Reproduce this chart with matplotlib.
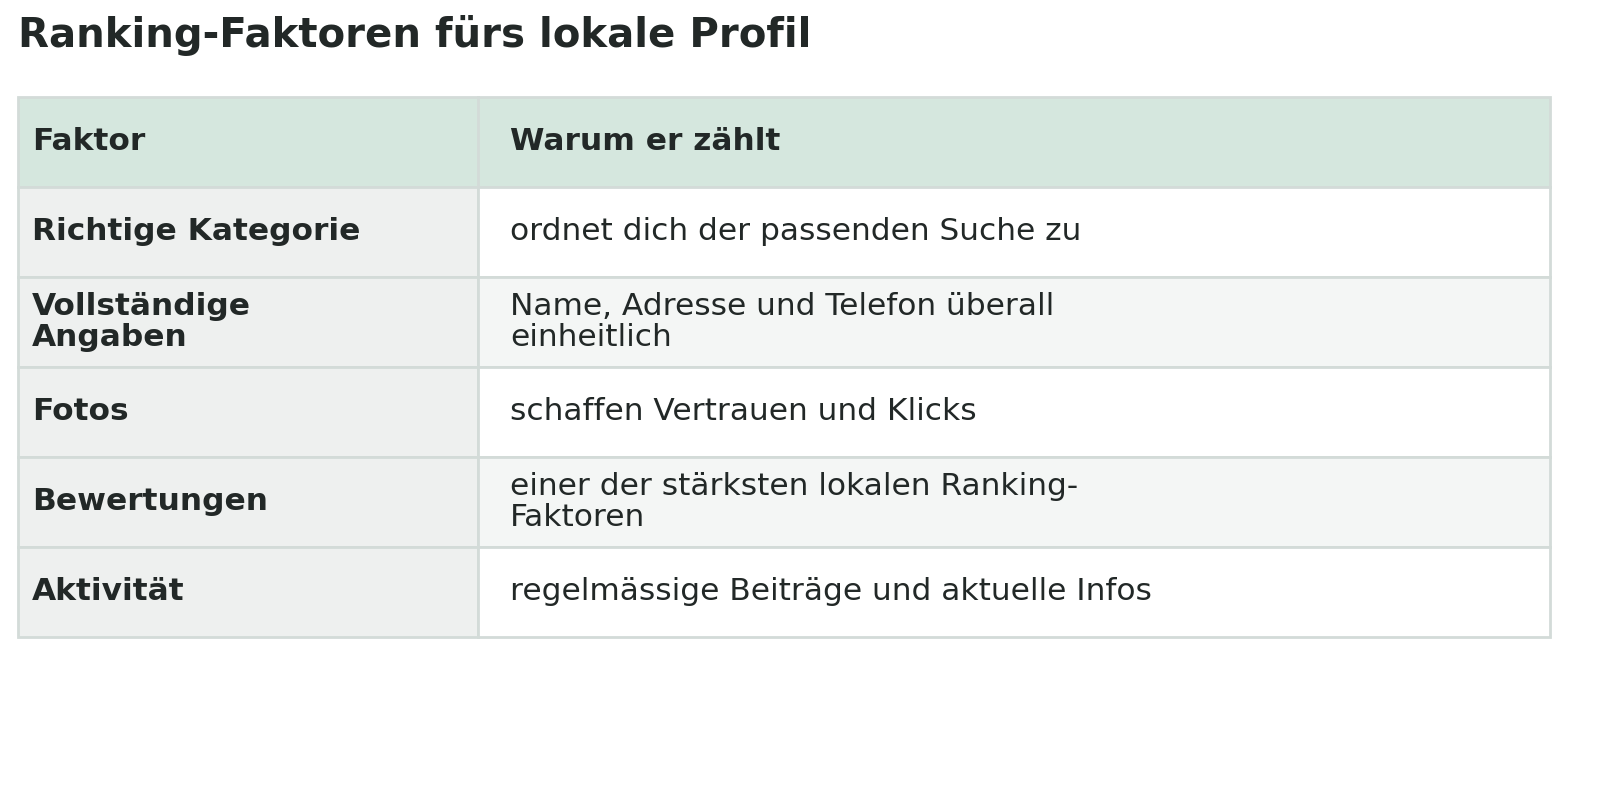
import matplotlib.pyplot as plt
from matplotlib.patches import Rectangle

title = "Ranking-Faktoren fürs lokale Profil"
headers = ["Faktor", "Warum er zählt"]
factors = ["Richtige Kategorie", "Vollständige\nAngaben", "Fotos", "Bewertungen", "Aktivität"]
reasons = [
    "ordnet dich der passenden Suche zu",
    "Name, Adresse und Telefon überall\neinheitlich",
    "schaffen Vertrauen und Klicks",
    "einer der stärksten lokalen Ranking-\nFaktoren",
    "regelmässige Beiträge und aktuelle Infos",
]

fig = plt.figure(figsize=(16, 8.07), dpi=100)
ax = fig.add_axes([0, 0, 1, 1])
ax.set_xlim(0, 1600)
ax.set_ylim(807, 0)
ax.axis("off")

text_col = "#222827"
border = "#d3dbd8"
left, split, right = 18, 478, 1550
top, row_h = 97, 90
fs = 22.5

ax.text(18, 36, title, fontsize=29, fontweight="bold", color=text_col, va="center")

# Header
ax.add_patch(Rectangle((left, top), right - left, row_h, facecolor="#d5e7de", edgecolor=border, lw=2))
ax.plot([split, split], [top, top + row_h], color=border, lw=2)
ax.text(32, top + row_h / 2, headers[0], fontsize=fs, fontweight="bold", color=text_col, va="center")
ax.text(510, top + row_h / 2, headers[1], fontsize=fs, fontweight="bold", color=text_col, va="center")

for i, (f, r) in enumerate(zip(factors, reasons)):
    y = top + row_h * (i + 1)
    bg = "#ffffff" if i % 2 == 0 else "#f4f6f5"
    ax.add_patch(Rectangle((left, y), split - left, row_h, facecolor="#eef0ef", edgecolor=border, lw=2))
    ax.add_patch(Rectangle((split, y), right - split, row_h, facecolor=bg, edgecolor=border, lw=2))
    ax.text(32, y + row_h / 2, f, fontsize=fs, fontweight="bold", color=text_col, va="center", linespacing=1.1)
    ax.text(510, y + row_h / 2, r, fontsize=fs, color=text_col, va="center", linespacing=1.1)

fig.savefig("out.png", dpi=100)
